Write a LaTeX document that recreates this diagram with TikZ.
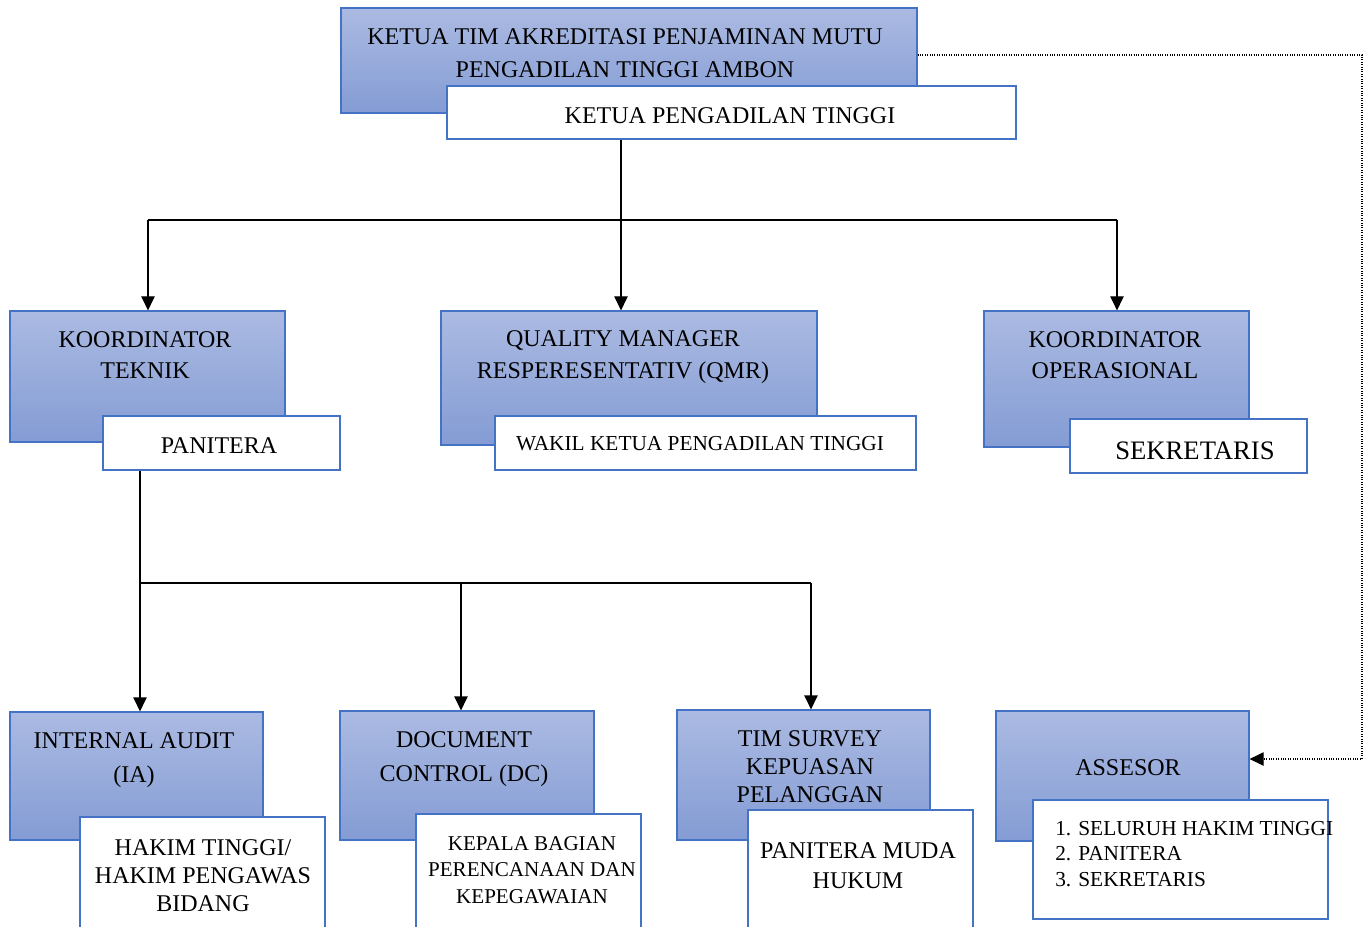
\documentclass[tikz,border=0pt]{standalone}
\usepackage{fontspec}
\setmainfont{Liberation Serif}
\usetikzlibrary{arrows.meta,fit}
\definecolor{boxline}{RGB}{68,114,196}
\definecolor{boxtop}{RGB}{171,186,226}
\definecolor{boxbot}{RGB}{132,156,212}

\begin{document}
\begin{tikzpicture}[x=0.75pt,y=-0.75pt,
  rolebox/.style={draw=boxline,line width=0.9pt,top color=boxtop,bottom color=boxbot,inner sep=0pt},
  namebox/.style={draw=boxline,line width=2.2pt,fill=white,inner sep=0pt},
  txt/.style={align=center,inner sep=0pt,font=\fontsize{18}{24}\selectfont},
  link/.style={line width=0.9pt},
  arr/.style={line width=0.9pt,-{Triangle[length=10.5pt,width=10pt]}},
  dots/.style={line width=0.8pt,densely dotted,-{Triangle[length=10.5pt,width=10pt]}}]
\useasboundingbox (0,0) rectangle (1368,927);
\clip (0,0) rectangle (1368,927);

% boxes
\node[rolebox, fit={(341,8) (917,113)}] (tim) {};
\node[namebox, fit={(447,86) (1016,139)}] (ketua) {};
\node[rolebox, fit={(10,311) (285,442)}] (kt) {};
\node[namebox, fit={(103,416) (340,470)}] (pan) {};
\node[rolebox, fit={(441,311) (817,445)}] (qmr) {};
\node[namebox, fit={(495,416) (916,470)}] (wakil) {};
\node[rolebox, fit={(984,311) (1249,447)}] (ko) {};
\node[namebox, fit={(1070,419) (1307,473)}] (sek) {};
\node[rolebox, fit={(10,712) (263,840)}] (ia) {};
\node[namebox, fit={(80,817) (325,945)}] (hakim) {};
\node[rolebox, fit={(340,711) (594,840)}] (dc) {};
\node[namebox, fit={(416,814) (641,945)}] (kabag) {};
\node[rolebox, fit={(677,710) (930,840)}] (ts) {};
\node[namebox, fit={(748,810) (973,945)}] (pmh) {};
\node[rolebox, fit={(996,711) (1249,841)}] (as) {};
\node[namebox, fit={(1033,800) (1328,919)}] (daftar) {};

% texts
\node[txt, font=\fontsize{18}{25}\selectfont] (tim-t) at (625,53) {KETUA TIM AKREDITASI PENJAMINAN MUTU\\PENGADILAN TINGGI AMBON};
\node[txt] (ketua-t) at (730,116) {KETUA PENGADILAN TINGGI};
\node[txt, font=\fontsize{18}{23}\selectfont] (kt-t) at (145,355) {KOORDINATOR\\TEKNIK};
\node[txt] (pan-t) at (219,446) {PANITERA};
\node[txt] (qmr-t) at (623,357) {QUALITY MANAGER\\RESPERESENTATIV (QMR)};
\node[txt, font=\fontsize{16}{20}\selectfont] (wakil-t) at (700,444) {WAKIL KETUA PENGADILAN TINGGI};
\node[txt, font=\fontsize{18}{23}\selectfont] (ko-t) at (1115,355) {KOORDINATOR\\OPERASIONAL};
\node[txt, font=\fontsize{20}{24}\selectfont] (sek-t) at (1195,451) {SEKRETARIS};
\node[txt, font=\fontsize{18}{25}\selectfont] (ia-t) at (134,760) {INTERNAL AUDIT\\(IA)};
\node[txt, font=\fontsize{18}{21}\selectfont] (hakim-t) at (203,876) {HAKIM TINGGI/\\HAKIM PENGAWAS\\BIDANG};
\node[txt, font=\fontsize{18}{25}\selectfont] (dc-t) at (464,759) {DOCUMENT\\CONTROL (DC)};
\node[txt, font=\fontsize{15.8}{20}\selectfont] (kabag-t) at (532,870) {KEPALA BAGIAN\\PERENCANAAN DAN\\KEPEGAWAIAN};
\node[txt, font=\fontsize{18}{21}\selectfont] (ts-t) at (810,767) {TIM SURVEY\\KEPUASAN\\PELANGGAN};
\node[txt, font=\fontsize{18}{22.5}\selectfont] (pmh-t) at (858,866) {PANITERA MUDA\\HUKUM};
\node[txt] (as-t) at (1128,768) {ASSESOR};
\node[txt, align=left, anchor=west, font=\fontsize{16}{19}\selectfont] (daftar-t) at (1055,854) {1. SELURUH HAKIM TINGGI\\2. PANITERA\\3. SEKRETARIS};

% connectors
\coordinate (ja) at (621,220);
\coordinate (jl) at (148,220);
\coordinate (jr) at (1117,220);
\draw[link] (ketua.south -| ja) -- (ja);
\draw[link] (jl) -- (jr);
\draw[arr] (ja) -- (ja |- qmr.north);
\draw[arr] (jl) -- (jl |- kt.north);
\draw[arr] (jr) -- (jr |- ko.north);

\coordinate (jb) at (140,583);
\coordinate (jc) at (461,583);
\coordinate (jd) at (811,583);
\draw[arr] (pan.south -| jb) -- (jb |- ia.north);
\draw[link] (jb) -- (jd);
\draw[arr] (jc) -- (jc |- dc.north);
\draw[arr] (jd) -- (jd |- ts.north);

\coordinate (dr) at (1362,55);
\coordinate (dd) at (1362,759);
\draw[dots] (tim.east |- dr) -- (dr) -- (dd) -- (as.east |- dd);
\end{tikzpicture}
\end{document}
